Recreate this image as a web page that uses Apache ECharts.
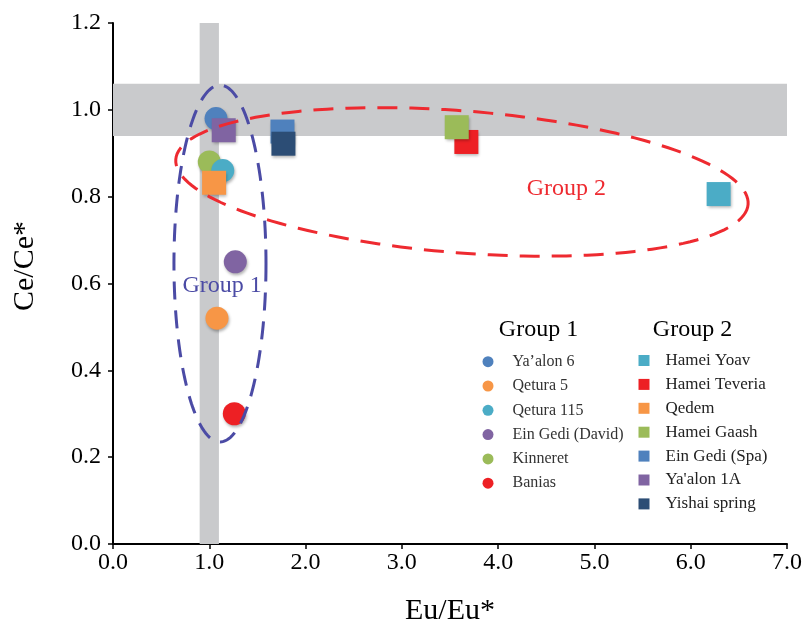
<!DOCTYPE html>
<html>
<head>
<meta charset="utf-8">
<script src="https://cdn.jsdelivr.net/npm/echarts@6/dist/echarts.min.js"></script>
<style>html,body{margin:0;padding:0;background:#fff}#c{width:803px;height:623px}</style>
</head>
<body>
<div id="c"></div>
<script>
// ---- data ----
const group1Names = ["Ya’alon 6", "Qetura 5", "Qetura 115", "Ein Gedi (David)", "Kinneret", "Banias"];
const group1X = [1.07, 1.08, 1.14, 1.27, 1.00, 1.26];
const group1Y = [0.98, 0.52, 0.86, 0.65, 0.88, 0.30];

const group2Names = ["Hamei Yoav", "Hamei Teveria", "Qedem", "Hamei Gaash", "Ein Gedi (Spa)", "Ya'alon 1A", "Yishai spring"];
const group2X = [6.29, 3.67, 1.05, 3.57, 1.76, 1.15, 1.77];
const group2Y = [0.806, 0.926, 0.832, 0.960, 0.950, 0.953, 0.922];

const xTicks = [0, 1, 2, 3, 4, 5, 6, 7];
const yTicks = [0, 0.2, 0.4, 0.6, 0.8, 1.0, 1.2];

// reference bands
const euBand = [0.9, 1.1];
const ceBand = [0.94, 1.06];

// group envelopes: [cx, cy, rx, ry, angleDeg, labelX, labelY]
const envelope1 = [1.111, 0.646, 0.478, 0.411, 0, 1.133, 0.594];
const envelope2 = [3.624, 0.834, 2.981, 0.1635, 4.5, 4.709, 0.819];

// ---- styles ----
const colors1 = ["#4F81BD", "#F79646", "#4BACC6", "#8064A2", "#9BBB59", "#ED2024"];
const colors2 = ["#4BACC6", "#ED2024", "#F79646", "#9BBB59", "#4F81BD", "#8064A2", "#2C4D75"];
const FONT = "'Liberation Serif', 'Times New Roman', serif";
const shadow = {shadowBlur: 3, shadowOffsetX: 1, shadowOffsetY: 2, shadowColor: 'rgba(0,0,0,0.3)'};

const series = [];
// background bands
series.push({
  type: 'scatter', data: [], silent: true, z: 1,
  markArea: {
    silent: true,
    itemStyle: {color: '#C9CACC', opacity: 1},
    data: [
      [{xAxis: euBand[0]}, {xAxis: euBand[1]}],
      [{yAxis: ceBand[0]}, {yAxis: ceBand[1]}]
    ]
  }
});
// group 1 draw order (Qetura 115 above Kinneret)
const order1 = [0, 1, 4, 2, 3, 5];
order1.forEach(i => {
  series.push({
    name: group1Names[i], type: 'scatter', symbol: 'circle', symbolSize: 23,
    itemStyle: Object.assign({color: colors1[i], opacity: 1}, shadow),
    data: [[group1X[i], group1Y[i]]], z: 3
  });
});
group2Names.forEach((n, i) => {
  series.push({
    name: n, type: 'scatter', symbol: 'rect', symbolSize: 24,
    itemStyle: Object.assign({color: colors2[i], opacity: 1}, shadow),
    data: [[group2X[i], group2Y[i]]], z: 3
  });
});

function ellipseItem(params, api) {
  const c = api.coord([api.value(0), api.value(1)]);
  const s = api.size([api.value(2), api.value(3)]);
  const th = api.value(4) * Math.PI / 180;
  const pts = [];
  for (let k = 0; k <= 160; k++) {
    const t = 2 * Math.PI * k / 160;
    const ex = s[0] * Math.cos(t), ey = s[1] * Math.sin(t);
    pts.push([c[0] + ex * Math.cos(th) - ey * Math.sin(th), c[1] + ex * Math.sin(th) + ey * Math.cos(th)]);
  }
  const lp = api.coord([api.value(5), api.value(6)]);
  const col = params.dataIndex === 0 ? '#4B4BA5' : '#EE2A30';
  const txt = params.dataIndex === 0 ? 'Group 1' : 'Group 2';
  return {
    type: 'group',
    children: [
      {type: 'polygon', shape: {points: pts}, style: {fill: 'none', stroke: col, lineWidth: 3, lineDash: params.dataIndex === 0 ? [18, 11] : [20, 12]}},
      {type: 'text', x: lp[0], y: lp[1], style: {text: txt, fill: col, font: '24px ' + FONT, align: 'center', verticalAlign: 'middle'}}
    ]
  };
}
series.push({
  type: 'custom', silent: true, z: 5,
  renderItem: ellipseItem,
  data: [envelope1, envelope2],
  encode: {x: 0, y: 1}
});

const option = {
  animation: false,
  backgroundColor: '#fff',
  grid: {left: 113, right: 16, top: 23, bottom: 79, containLabel: false, outerBoundsMode: 'none'},
  xAxis: {
    type: 'value', min: xTicks[0], max: xTicks[xTicks.length - 1], interval: 1,
    name: 'Eu/Eu*', nameLocation: 'middle', nameGap: 52,
    nameTextStyle: {fontFamily: FONT, fontSize: 30, color: '#000'},
    axisLine: {show: true, onZero: false, lineStyle: {color: '#000', width: 2}},
    axisTick: {show: true, length: 5, lineStyle: {color: '#000', width: 1.5}},
    axisLabel: {fontFamily: FONT, fontSize: 24, color: '#000', margin: 7, formatter: v => v.toFixed(1)},
    splitLine: {show: false}
  },
  yAxis: {
    type: 'value', min: yTicks[0], max: yTicks[yTicks.length - 1], interval: 0.2,
    axisLine: {show: true, onZero: false, lineStyle: {color: '#000', width: 2}},
    axisTick: {show: true, length: 5, lineStyle: {color: '#000', width: 1.5}},
    axisLabel: {fontFamily: FONT, fontSize: 24, color: '#000', margin: 12, formatter: v => v.toFixed(1)},
    splitLine: {show: false}
  },
  legend: [
    {
      data: group1Names.map(n => ({name: n, icon: 'circle'})),
      orient: 'vertical', left: 482.5, top: 353.7,
      itemWidth: 11, itemHeight: 11, itemGap: 8.3,
      textStyle: {fontFamily: FONT, fontSize: 16, lineHeight: 16, color: '#333', padding: [0, 0, 0, 14]},
      selectedMode: false, padding: 0
    },
    {
      data: group2Names.map(n => ({name: n, icon: 'rect'})),
      orient: 'vertical', left: 638.5, top: 352,
      itemWidth: 11, itemHeight: 11, itemGap: 6.9,
      textStyle: {fontFamily: FONT, fontSize: 17, lineHeight: 17, color: '#222', padding: [0, 0, 0, 11]},
      selectedMode: false, padding: 0
    }
  ],
  graphic: [
    {type: 'text', x: 25, y: 266, rotation: Math.PI / 2,
     style: {text: 'Ce/Ce*', font: '30px ' + FONT, fill: '#000', align: 'center', verticalAlign: 'middle'}},
    {type: 'text', x: 538.5, y: 330,
     style: {text: 'Group 1', font: '24px ' + FONT, fill: '#000', align: 'center', verticalAlign: 'middle'}},
    {type: 'text', x: 692.5, y: 330,
     style: {text: 'Group 2', font: '24px ' + FONT, fill: '#000', align: 'center', verticalAlign: 'middle'}}
  ],
  series: series
};
const chart = echarts.init(document.getElementById('c'), null, {renderer: 'canvas'});
chart.setOption(option);
</script>
</body>
</html>
